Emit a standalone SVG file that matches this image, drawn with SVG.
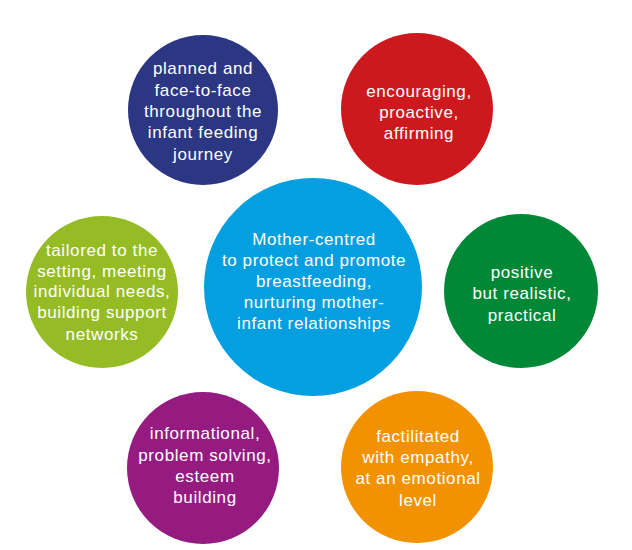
<svg xmlns="http://www.w3.org/2000/svg" width="632" height="550" viewBox="0 0 632 550">
<style>
text{font-family:"Liberation Sans",Arial,sans-serif;font-size:17px;fill:#ffffff;text-anchor:middle;letter-spacing:0.6px}
</style>
<rect width="632" height="550" fill="#ffffff"/>
<g id="connectors"></g>
<g id="center">
<circle cx="313" cy="287" r="109" fill="#049FE0"/>
<text x="314" y="245">Mother-centred</text>
<text x="314" y="266">to protect and promote</text>
<text x="314" y="287">breastfeeding,</text>
<text x="314" y="308">nurturing mother-</text>
<text x="314" y="329">infant relationships</text>
</g>
<g id="planned">
<circle cx="203" cy="110" r="75" fill="#2B3782"/>
<text x="203" y="74">planned and</text>
<text x="203" y="96">face-to-face</text>
<text x="203" y="117">throughout the</text>
<text x="203" y="138">infant feeding</text>
<text x="203" y="160">journey</text>
</g>
<g id="encouraging">
<circle cx="417" cy="109" r="76" fill="#CD181E"/>
<text x="419" y="97">encouraging,</text>
<text x="419" y="118">proactive,</text>
<text x="419" y="139">affirming</text>
</g>
<g id="positive">
<circle cx="521" cy="291" r="77" fill="#008837"/>
<text x="522" y="278">positive</text>
<text x="522" y="299">but realistic,</text>
<text x="522" y="321">practical</text>
</g>
<g id="facilitated">
<circle cx="417" cy="467" r="76" fill="#F39200"/>
<text x="418" y="442">factilitated</text>
<text x="418" y="463">with empathy,</text>
<text x="418" y="484">at an emotional</text>
<text x="418" y="506">level</text>
</g>
<g id="informational">
<circle cx="203" cy="468" r="76" fill="#951B81"/>
<text x="205" y="439">informational,</text>
<text x="205" y="461">problem solving,</text>
<text x="205" y="482">esteem</text>
<text x="205" y="503">building</text>
</g>
<g id="tailored">
<circle cx="102" cy="292" r="76" fill="#95BC24"/>
<text x="102" y="256">tailored to the</text>
<text x="102" y="277">setting, meeting</text>
<text x="102" y="297">individual needs,</text>
<text x="102" y="318">building support</text>
<text x="102" y="340">networks</text>
</g>
</svg>
